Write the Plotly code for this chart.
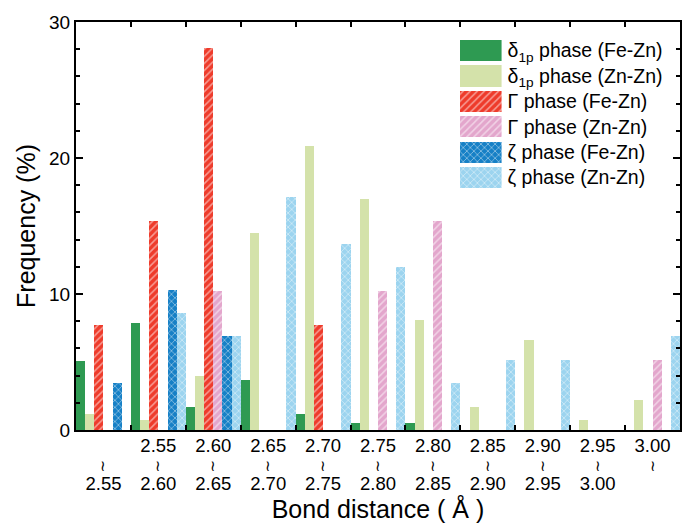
import plotly.graph_objects as go

# ---- data ----
bin_low = ["", "2.55", "2.60", "2.65", "2.70", "2.75", "2.80", "2.85", "2.90", "2.95", "3.00"]
bin_high = ["2.55", "2.60", "2.65", "2.70", "2.75", "2.80", "2.85", "2.90", "2.95", "3.00", ""]
categories = [f"{lo}~{hi}" for lo, hi in zip(bin_low, bin_high)]

series_names = [
    "δ<sub>1p</sub> phase (Fe-Zn)",
    "δ<sub>1p</sub> phase (Zn-Zn)",
    "Γ phase (Fe-Zn)",
    "Γ phase (Zn-Zn)",
    "ζ phase (Fe-Zn)",
    "ζ phase (Zn-Zn)",
]
delta_fezn = [5.1, 7.9, 1.7, 3.7, 1.2, 0.5, 0.5, 0, 0, 0, 0]
delta_znzn = [1.2, 0.75, 3.95, 14.5, 20.9, 17.0, 8.1, 1.7, 6.65, 0.75, 2.2]
gamma_fezn = [7.7, 15.4, 28.1, 0, 7.7, 0, 0, 0, 0, 0, 0]
gamma_znzn = [0, 0, 10.25, 0, 0, 10.25, 15.4, 0, 0, 0, 5.15]
zeta_fezn = [3.45, 10.3, 6.9, 0, 0, 0, 0, 0, 0, 0, 0]
zeta_znzn = [0, 8.6, 6.9, 17.1, 13.7, 12.0, 3.45, 5.15, 5.15, 0, 6.9]
series_values = [delta_fezn, delta_znzn, gamma_fezn, gamma_znzn, zeta_fezn, zeta_znzn]

# ---- styles ----
colors = ["#2e9a52", "#d4e2aa", "#ee3b2b", "#e3a6cc", "#1680c6", "#9cd4ef"]
shapes = ["", "", "/", "/", "x", "x"]

FONT = "Liberation Sans, Arial, sans-serif"


def marker_for(i):
    m = dict(color=colors[i], line=dict(width=0))
    if shapes[i]:
        m["pattern"] = dict(shape=shapes[i], fillmode="overlay", fgcolor="white",
                            bgcolor=colors[i], size=5, solidity=0.3)
    return m


fig = go.Figure()
for i, (name, vals) in enumerate(zip(series_names, series_values)):
    fig.add_trace(go.Bar(x=categories, y=vals, name=name, marker=marker_for(i),
                         showlegend=False))

# custom legend drawn as a small bar subplot
for i, name in enumerate(series_names):
    fig.add_trace(go.Bar(x=[1], y=[name], orientation="h", width=0.83, offset=-0.415,
                         marker=marker_for(i), xaxis="x2", yaxis="y2",
                         showlegend=False, hoverinfo="skip"))


def ticklabel(lo, hi):
    top = f"<span style='font-size:18.5px'>{lo}</span>" if lo else " "
    bot = f"<span style='font-size:18.5px'>{hi}</span>" if hi else " "
    return f"{top}<br>≀<br>{bot}"


ticktext = [ticklabel(lo, hi) for lo, hi in zip(bin_low, bin_high)]

fig.update_layout(
    width=684, height=524,
    margin=dict(l=76, r=2, t=22, b=94),
    paper_bgcolor="white", plot_bgcolor="white",
    barmode="group", bargap=0, bargroupgap=0,
    font=dict(family=FONT, color="black", size=19),
    xaxis=dict(
        type="category", categoryorder="array", categoryarray=categories,
        tickmode="array", tickvals=categories, ticktext=ticktext,
        tickson="boundaries", range=[-0.5, len(categories) - 0.5],
        showline=True, linecolor="black", linewidth=2, mirror="ticks",
        ticks="inside", ticklen=5, tickwidth=1.5, tickcolor="black",
        tickfont=dict(size=14.5, family=FONT, color="black"), ticklabelstandoff=3,
        showgrid=False, zeroline=False,
        title=dict(text="Bond distance ( Å )", font=dict(size=25, family=FONT), standoff=6),
    ),
    yaxis=dict(
        range=[0, 30], tickvals=[0, 10, 20, 30],
        showline=True, linecolor="black", linewidth=2, mirror="ticks",
        ticks="inside", ticklen=7, tickwidth=1.5, tickcolor="black",
        minor=dict(dtick=2, ticks="inside", ticklen=4, tickwidth=1.5, tickcolor="black"),
        tickfont=dict(size=19, family=FONT),
        showgrid=False, zeroline=False,
        title=dict(text="Frequency (%)", font=dict(size=25, family=FONT), standoff=6),
    ),
    xaxis2=dict(domain=[0.6353, 0.7046], anchor="y2", range=[0, 1], visible=False,
                fixedrange=True),
    yaxis2=dict(domain=[0.5882, 0.9608], anchor="x2", side="right", type="category",
                categoryorder="array", categoryarray=series_names,
                range=[len(series_names) - 0.5, -0.5],
                showline=False, ticks="", showgrid=False, zeroline=False,
                tickfont=dict(size=19.5, family=FONT), ticklabelstandoff=5,
                fixedrange=True),
)

fig.write_html("out.html")
